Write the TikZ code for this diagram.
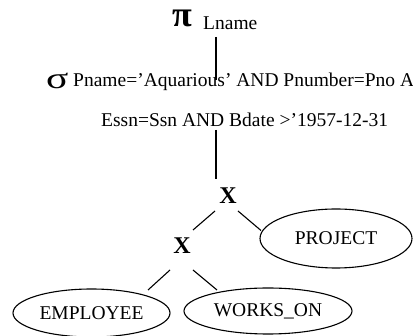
\documentclass[tikz,border=0pt]{standalone}
\usepackage{fontspec}
\setmainfont{Liberation Serif}
\usetikzlibrary{shapes.geometric}
\begin{document}
\begin{tikzpicture}[x=1pt,y=-1pt,
  txt/.style={inner sep=0pt,anchor=base west,font=\fontsize{19.5}{22}\selectfont},
  op/.style={inner sep=0pt,font=\fontsize{24}{26}\selectfont\bfseries},
  rel/.style={ellipse,draw,line width=1.1pt,inner sep=0pt,font=\fontsize{19.5}{22}\selectfont},
  edge/.style={line width=1.1pt}]
\useasboundingbox (0,0) rectangle (413,336);
\node[txt,text height=17pt,text depth=0pt,font=\fontsize{36}{38}\selectfont\bfseries] (pi) at (172,27) {π};
\node[txt] (lname) at (203,30) {Lname};
\node[txt,text height=14pt,text depth=0pt,font=\fontsize{30}{32}\selectfont] (sigma) at (46,89) {\scalebox{1.38}[1]{σ}};
\node[txt] (cond1) at (73,87) {Pname=’Aquarious’ AND Pnumber=Pno AND};
\node[txt] (cond2) at (101,127) {Essn=Ssn AND Bdate >’1957-12-31};
\node[op] (xtop) at (228,196) {X};
\node[op] (xlow) at (182,246) {X};
\node[rel,minimum width=152pt,minimum height=59pt] (project) at (336,238.5) {PROJECT};
\node[rel,minimum width=157pt,minimum height=48pt] (employee) at (91.5,313) {EMPLOYEE};
\node[rel,minimum width=168pt,minimum height=46pt] (workson) at (268,311) {WORKS\_ON};
\coordinate (v1a) at (216,37);
\coordinate (v1b) at (216,80);
\coordinate (v2a) at (216,130);
\coordinate (v2b) at (216,179);
\draw[edge] (v1a) -- (v1b);
\draw[edge] (v2a) -- (v2b);
\draw[edge] ([shift={(-13,15)}]xtop.center) -- ([shift={(11,-16)}]xlow.center);
\draw[edge] ([shift={(10,15)}]xtop.center) -- ([shift={(-75,-8)}]project.center);
\draw[edge] ([shift={(-12,24)}]xlow.center) -- ([shift={(56.5,-23)}]employee.center);
\draw[edge] ([shift={(11,24)}]xlow.center) -- ([shift={(-51,-21)}]workson.center);
\end{tikzpicture}
\end{document}
